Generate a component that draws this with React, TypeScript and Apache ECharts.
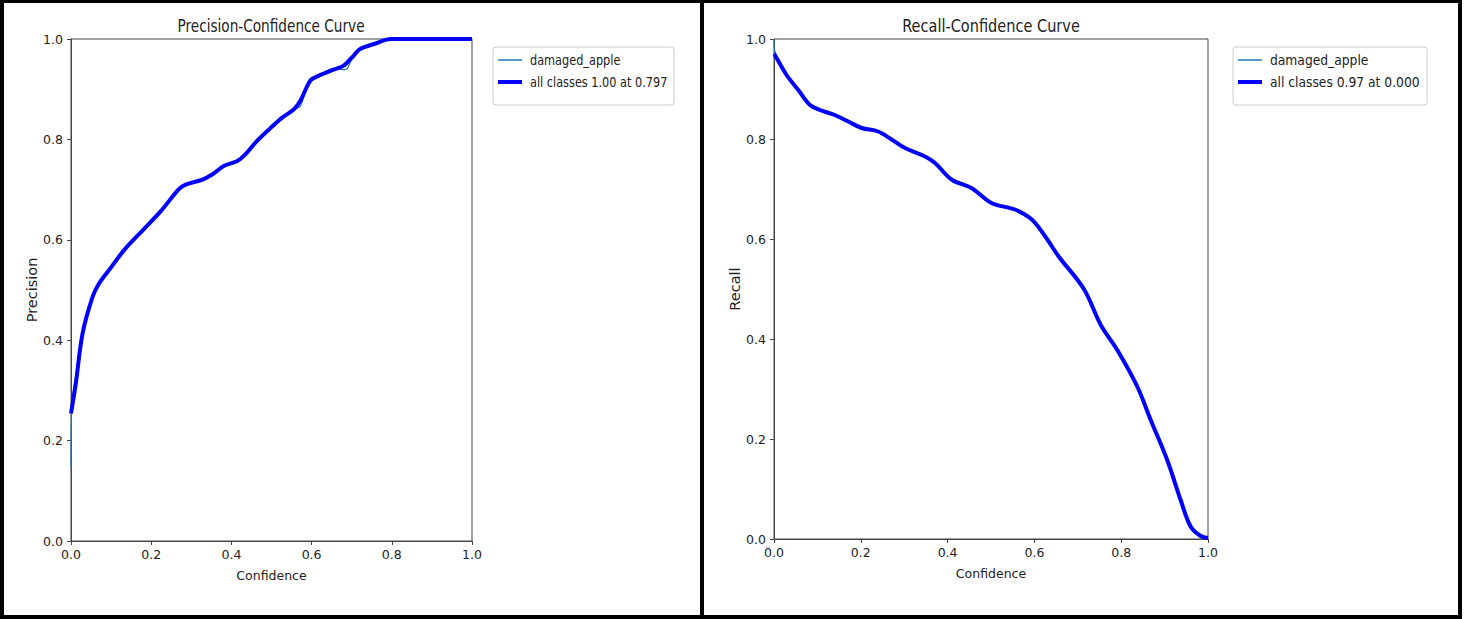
import React, { useEffect, useRef } from "react";
import * as echarts from "echarts";

// ---- Precision-Confidence data ----
const precConfAll = [0, 0.012, 0.029, 0.054, 0.07, 0.1, 0.133, 0.18, 0.224, 0.269, 0.286, 0.328, 0.352, 0.381, 0.415, 0.431, 0.464, 0.498, 0.526, 0.556, 0.572, 0.597, 0.618, 0.655, 0.68, 0.705, 0.721, 0.763, 0.797, 0.85, 1.0];
const precAll = [0.254, 0.314, 0.414, 0.487, 0.513, 0.545, 0.58, 0.62, 0.657, 0.701, 0.71, 0.72, 0.73, 0.747, 0.757, 0.767, 0.797, 0.823, 0.843, 0.86, 0.877, 0.917, 0.927, 0.939, 0.947, 0.967, 0.98, 0.992, 1.0, 1.0, 1.0];
const precConfCls = [0, 0.002, 0.012, 0.029, 0.054, 0.07, 0.1, 0.133, 0.18, 0.224, 0.269, 0.286, 0.328, 0.352, 0.381, 0.415, 0.431, 0.464, 0.498, 0.526, 0.556, 0.572, 0.595, 0.618, 0.651, 0.684, 0.705, 0.721, 0.763, 0.797, 0.85, 1.0];
const precCls = [0.146, 0.27, 0.33, 0.42, 0.49, 0.515, 0.545, 0.58, 0.62, 0.657, 0.703, 0.71, 0.72, 0.73, 0.748, 0.757, 0.765, 0.797, 0.823, 0.843, 0.86, 0.866, 0.92, 0.927, 0.94, 0.939, 0.97, 0.98, 0.992, 1.0, 1.0, 1.0];

// ---- Recall-Confidence data ----
const recConfAll = [0, 0.002, 0.029, 0.056, 0.083, 0.106, 0.14, 0.171, 0.202, 0.24, 0.271, 0.302, 0.348, 0.371, 0.409, 0.455, 0.501, 0.555, 0.594, 0.625, 0.656, 0.714, 0.753, 0.791, 0.837, 0.868, 0.906, 0.937, 0.96, 0.983, 1.0];
const recAll = [0.97, 0.968, 0.928, 0.898, 0.868, 0.858, 0.848, 0.835, 0.822, 0.815, 0.799, 0.782, 0.765, 0.752, 0.719, 0.702, 0.672, 0.659, 0.639, 0.605, 0.565, 0.5, 0.428, 0.378, 0.305, 0.238, 0.158, 0.078, 0.025, 0.006, 0.002];
const recConfCls = [0, 0.002, 0.029, 0.056, 0.083, 0.106, 0.14, 0.171, 0.202, 0.24, 0.271, 0.302, 0.348, 0.371, 0.409, 0.455, 0.501, 0.555, 0.594, 0.625, 0.656, 0.714, 0.753, 0.791, 0.837, 0.868, 0.906, 0.937, 0.96, 0.983, 1.0];
const recCls = [1.0, 0.975, 0.925, 0.898, 0.866, 0.858, 0.848, 0.835, 0.822, 0.813, 0.797, 0.782, 0.765, 0.75, 0.717, 0.702, 0.67, 0.659, 0.639, 0.605, 0.565, 0.5, 0.425, 0.378, 0.305, 0.236, 0.158, 0.078, 0.025, 0.004, 0.0];

const tickValues = [0, 0.2, 0.4, 0.6, 0.8, 1.0];
const titles = ["Precision-Confidence Curve", "Recall-Confidence Curve"];
const yNames = ["Precision", "Recall"];
const xName = "Confidence";
const clsName = "damaged_apple";
const allNames = ["all classes 1.00 at 0.797", "all classes 0.97 at 0.000"];

const zip = (xs: number[], ys: number[]) => xs.map((x, i) => [x, ys[i]]);

const FONT = '"DejaVu Sans", sans-serif';
const AXIS_COLOR = "#444";

function makeXAxis(gridIndex: number) {
  return {
    type: "value",
    gridIndex,
    min: tickValues[0],
    max: tickValues[tickValues.length - 1],
    interval: 0.2,
    name: xName,
    nameLocation: "middle",
    nameGap: 28,
    nameTextStyle: { fontFamily: FONT, fontSize: 12.5, color: "#222" },
    axisLine: { show: true, lineStyle: { color: AXIS_COLOR, width: 1 } },
    axisTick: { show: true, length: 4, lineStyle: { color: AXIS_COLOR } },
    axisLabel: { margin: 7, fontFamily: FONT, fontSize: 12.5, color: "#222", formatter: (v: number) => v.toFixed(1) },
    splitLine: { show: false },
  };
}

function makeYAxis(gridIndex: number, name: string, gap: number) {
  return {
    type: "value",
    gridIndex,
    min: tickValues[0],
    max: tickValues[tickValues.length - 1],
    interval: 0.2,
    name,
    nameLocation: "middle",
    nameGap: gap,
    nameTextStyle: { fontFamily: FONT, fontSize: 14.5, color: "#222" },
    axisLine: { show: true, lineStyle: { color: AXIS_COLOR, width: 1 } },
    axisTick: { show: true, length: 4, lineStyle: { color: AXIS_COLOR } },
    axisLabel: { margin: 8, fontFamily: FONT, fontSize: 12.5, color: "#222", formatter: (v: number) => v.toFixed(1) },
    splitLine: { show: false },
  };
}

function legendGroup(x: number, y: number, w: number, h: number, names: string[], sx: number) {
  return {
    type: "group",
    children: [
      { type: "rect", shape: { x, y, width: w, height: h, r: 3 }, style: { fill: "#fff", stroke: "#cccccc", lineWidth: 1 } },
      { type: "line", shape: { x1: x + 5, y1: y + 13, x2: x + 29, y2: y + 13 }, style: { stroke: "#1f77b4", lineWidth: 1.5 } },
      { type: "text", x: x + 37, y: y + 13, scaleX: sx, style: { text: names[0], fontFamily: FONT, fontSize: 14.5, fill: "#222", verticalAlign: "middle", align: "left" } },
      { type: "line", shape: { x1: x + 5, y1: y + 35, x2: x + 29, y2: y + 35 }, style: { stroke: "#0000ff", lineWidth: 4 } },
      { type: "text", x: x + 37, y: y + 35, scaleX: sx, style: { text: names[1], fontFamily: FONT, fontSize: 14.5, fill: "#222", verticalAlign: "middle", align: "left" } },
    ],
  };
}

const thin = { color: "#1f77b4", width: 1.2 };
const thick = { color: "#0000ff", width: 4 };

export default function App() {
  const ref = useRef<HTMLDivElement>(null);
  useEffect(() => {
    if (!ref.current) return;
    const chart = echarts.init(ref.current, null, { renderer: "svg" });
    const option: any = {
      animation: false,
      backgroundColor: "#fff",
      grid: [
        { left: 71, top: 39, width: 401, height: 502, show: true, borderColor: AXIS_COLOR, borderWidth: 1, backgroundColor: "transparent" },
        { left: 774, top: 39, width: 434, height: 500, show: true, borderColor: AXIS_COLOR, borderWidth: 1, backgroundColor: "transparent" },
      ],
      xAxis: [makeXAxis(0), makeXAxis(1)],
      yAxis: [makeYAxis(0, yNames[0], 28), makeYAxis(1, yNames[1], 30)],
      series: [
        { type: "line", name: clsName, xAxisIndex: 0, yAxisIndex: 0, data: zip(precConfCls, precCls), showSymbol: false, smooth: 0.35, lineStyle: thin, z: 2 },
        { type: "line", name: allNames[0], xAxisIndex: 0, yAxisIndex: 0, data: zip(precConfAll, precAll), showSymbol: false, smooth: 0.35, lineStyle: thick, z: 3 },
        { type: "line", name: clsName, xAxisIndex: 1, yAxisIndex: 1, data: zip(recConfCls, recCls), showSymbol: false, smooth: 0.35, lineStyle: thin, z: 2 },
        { type: "line", name: allNames[1], xAxisIndex: 1, yAxisIndex: 1, data: zip(recConfAll, recAll), showSymbol: false, smooth: 0.35, lineStyle: thick, z: 3 },
      ],
      graphic: [
        { type: "text", x: 271, y: 26, scaleX: 0.78, style: { text: titles[0], fontFamily: FONT, fontSize: 17.5, fill: "#222", align: "center", verticalAlign: "middle" } },
        { type: "text", x: 991, y: 26, scaleX: 0.83, style: { text: titles[1], fontFamily: FONT, fontSize: 17.5, fill: "#222", align: "center", verticalAlign: "middle" } },
        legendGroup(493, 47, 181, 58, [clsName, allNames[0]], 0.78),
        legendGroup(1233, 47, 194, 58, [clsName, allNames[1]], 0.85),
        // panel frames
        { type: "rect", shape: { x: 0, y: 0, width: 1462, height: 3 }, style: { fill: "#000" } },
        { type: "rect", shape: { x: 0, y: 615, width: 1462, height: 4 }, style: { fill: "#000" } },
        { type: "rect", shape: { x: 0, y: 0, width: 4, height: 619 }, style: { fill: "#000" } },
        { type: "rect", shape: { x: 700, y: 0, width: 4, height: 619 }, style: { fill: "#000" } },
        { type: "rect", shape: { x: 1458, y: 0, width: 4, height: 619 }, style: { fill: "#000" } },
      ],
    };
    chart.setOption(option);
    return () => chart.dispose();
  }, []);
  return <div ref={ref} style={{ position: "absolute", left: 0, top: 0, width: 1473, height: 619, background: "#fff" }} />;
}
